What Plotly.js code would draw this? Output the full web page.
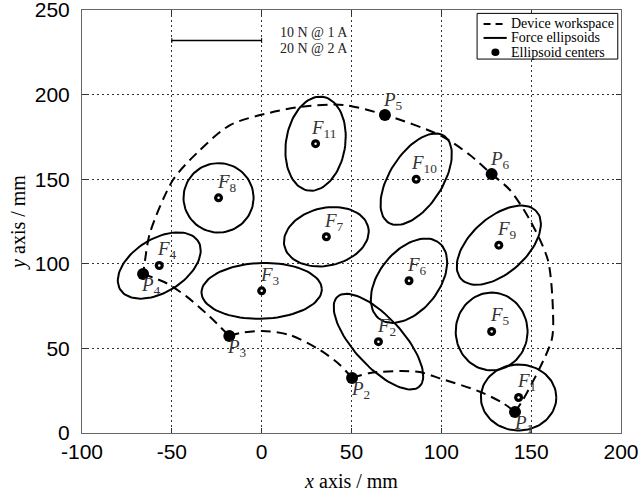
<!DOCTYPE html>
<html>
<head>
<meta charset="utf-8">
<script src="https://cdn.plot.ly/plotly-3.0.1.min.js"></script>
<style>html,body{margin:0;padding:0;background:#fff;}#chart{width:643px;height:497px;}</style>
</head>
<body>
<div id="chart"></div>
<script>
// Ellipsoid centers F1..F11 (mm)
const fLabels = ["1","2","3","4","5","6","7","8","9","10","11"];
const fX = [143, 65, 0, -57, 128, 82, 36, -24, 132, 86, 30];
const fY = [21, 54, 84, 99, 60, 90, 116, 139, 111, 150, 171];
// Ellipse semi-axes (mm) and orientation (deg)
const ellA = [21, 35, 33.5, 26, 23, 28, 24, 20.5, 29, 30, 28];
const ellB = [19.5, 14, 16.5, 15.5, 20, 17, 17, 19.5, 16, 15, 16.5];
const ellAng = [0, -50, 2, 35, 90, 55, 15, 90, 45, 60, 82];
// Workspace corner points P1..P6 (mm)
const pLabels = ["1","2","3","4","5","6"];
const pX = [141, 50.3, -18, -66, 68.6, 128];
const pY = [12.4, 32.5, 57.3, 94, 188, 153];
// Workspace boundary segments (mm)
const wsOuterX = [141, 145.4, 161.4, 162.1, 159.3, 149.3, 138.2, 128, 115.9, 100.2, 68.6, 45.4, 21.3, 4.6, -17.6, -36.2, -49.4, -62.2, -64.9, -66];
const wsOuterY = [12.4, 19.5, 55, 72.7, 102.2, 125.9, 143.6, 153, 164.3, 175.5, 188, 193.9, 192.7, 189.3, 182, 165.3, 149.5, 118.2, 102.2, 94];
const ws43X = [-66, -52.9, -41.7, -28.8, -18];
const ws43Y = [94, 88.5, 80.6, 68.7, 57.3];
const ws32X = [-18, -12.1, 0.2, 15.7, 32.4, 43.6, 50.3];
const ws32Y = [57.3, 59.1, 60.3, 57.9, 49.1, 40.2, 32.5];
const ws21X = [50.3, 60.3, 77, 88, 99.2, 121.5, 134.4, 141];
const ws21Y = [32.5, 35.5, 36.6, 36, 32.3, 24.4, 17.6, 12.4];
// Axis ticks
const xTicks = [-100, -50, 0, 50, 100, 150, 200];
const yTicks = [0, 50, 100, 150, 200, 250];

// ellipse outlines
const ex = [], ey = [];
for (let i = 0; i < fX.length; i++) {
  const t0 = ellAng[i] * Math.PI / 180;
  for (let k = 0; k <= 90; k++) {
    const t = 2 * Math.PI * k / 90;
    const u = ellA[i] * Math.cos(t), v = ellB[i] * Math.sin(t);
    ex.push(fX[i] + u * Math.cos(t0) - v * Math.sin(t0));
    ey.push(fY[i] + u * Math.sin(t0) + v * Math.cos(t0));
  }
  ex.push(null); ey.push(null);
}
const dashLine = {color: "#000", width: 2, dash: "10px,6px", shape: "spline", smoothing: 0.8};
const traces = [
  {x: wsOuterX, y: wsOuterY, mode: "lines", line: dashLine, showlegend: false, hoverinfo: "skip"},
  {x: ws43X, y: ws43Y, mode: "lines", line: dashLine, showlegend: false, hoverinfo: "skip"},
  {x: ws32X, y: ws32Y, mode: "lines", line: dashLine, showlegend: false, hoverinfo: "skip"},
  {x: ws21X, y: ws21Y, mode: "lines", line: dashLine, showlegend: false, hoverinfo: "skip"},
  {x: ex, y: ey, mode: "lines", line: {color: "#000", width: 2}, showlegend: false, hoverinfo: "skip"},
  {x: pX, y: pY, mode: "markers", marker: {color: "#000", size: 12}, showlegend: false},
  {x: fX, y: fY, mode: "markers", marker: {color: "#000", size: 9}, showlegend: false},
  {x: fX, y: fY, mode: "markers", marker: {color: "#fff", size: 2.5}, showlegend: false, hoverinfo: "skip"}
];

const serif = "Liberation Serif, Times New Roman, serif";
const annotations = [];
fX.forEach((x, i) => annotations.push({x: x, y: fY[i], xref: "x", yref: "y", text: "<i>F</i><sub>" + fLabels[i] + "</sub>",
  showarrow: false, xanchor: "center", yanchor: "bottom", xshift: 8, yshift: 1, font: {family: serif, size: 19, color: "#333"}}));
const pAbove = [false, false, false, false, true, true];
pX.forEach((x, i) => annotations.push({x: x, y: pY[i], xref: "x", yref: "y", text: "<i>P</i><sub>" + pLabels[i] + "</sub>",
  showarrow: false, xanchor: "center", yanchor: pAbove[i] ? "bottom" : "top", xshift: 8, yshift: pAbove[i] ? 0 : 2,
  font: {family: serif, size: 19, color: "#333"}}));
// scale bar text
annotations.push({x: 9, y: 236.5, xref: "x", yref: "y", text: "10 N @ 1 A", showarrow: false, xanchor: "left", yanchor: "middle", font: {family: serif, size: 14, color: "#222"}});
annotations.push({x: 9, y: 227.5, xref: "x", yref: "y", text: "20 N @ 2 A", showarrow: false, xanchor: "left", yanchor: "middle", font: {family: serif, size: 14, color: "#222"}});
// legend texts
const legTexts = ["Device workspace", "Force ellipsoids", "Ellipsoid centers"];
const legY = [0.967, 0.934, 0.899];
legTexts.forEach((t, i) => annotations.push({x: 0.793, y: legY[i], xref: "paper", yref: "paper", text: t, showarrow: false,
  xanchor: "left", yanchor: "middle", font: {family: serif, size: 14, color: "#000"}}));

const shapes = [
  {type: "line", xref: "x", yref: "y", x0: -50, x1: 0, y0: 232, y1: 232, line: {color: "#000", width: 1.5}},
  {type: "line", xref: "x", yref: "y", x0: -50, x1: -50, y0: 230.5, y1: 233.5, line: {color: "#000", width: 1}},
  {type: "line", xref: "x", yref: "y", x0: 0, x1: 0, y0: 230.5, y1: 233.5, line: {color: "#000", width: 1}},
  {type: "rect", xref: "paper", yref: "paper", x0: 0.733, x1: 0.994, y0: 0.884, y1: 0.992, fillcolor: "#fff", line: {color: "#000", width: 1}},
  {type: "line", xref: "paper", yref: "paper", x0: 0.745, x1: 0.786, y0: 0.967, y1: 0.967, line: {color: "#000", width: 2, dash: "7px,5px"}},
  {type: "line", xref: "paper", yref: "paper", x0: 0.745, x1: 0.788, y0: 0.934, y1: 0.934, line: {color: "#000", width: 2}},
  {type: "circle", xref: "paper", yref: "paper", x0: 0.7595, x1: 0.7745, y0: 0.891, y1: 0.909, fillcolor: "#000", line: {color: "#000", width: 0}}
];

const axisCommon = {
  showgrid: true, gridcolor: "#333", griddash: "2px,3px", gridwidth: 1,
  zeroline: false, showline: true, linecolor: "#666", linewidth: 1, mirror: "ticks",
  ticks: "inside", ticklen: 5, tickcolor: "#333", ticklabeloverflow: "allow",
  tickfont: {family: "Liberation Sans, Arial, sans-serif", size: 21, color: "#000"}
};
const layout = {
  width: 643, height: 497,
  margin: {l: 82, r: 22, t: 10, b: 64},
  paper_bgcolor: "#fff", plot_bgcolor: "#fff",
  showlegend: false,
  xaxis: Object.assign({}, axisCommon, {range: [-100, 200], tickvals: xTicks, ticktext: xTicks.map(String), ticklabelstandoff: 0,
    title: {text: "<i>x</i> axis / mm", font: {family: serif, size: 20, color: "#000"}, standoff: 11}}),
  yaxis: Object.assign({}, axisCommon, {range: [0, 250], tickvals: yTicks, ticktext: yTicks.map(String), ticklabelstandoff: 7,
    title: {text: "<i>y</i> axis / mm", font: {family: serif, size: 20, color: "#000"}, standoff: 3}}),
  annotations: annotations,
  shapes: shapes
};
Plotly.newPlot("chart", traces, layout, {displayModeBar: false, staticPlot: true});
</script>
</body>
</html>
